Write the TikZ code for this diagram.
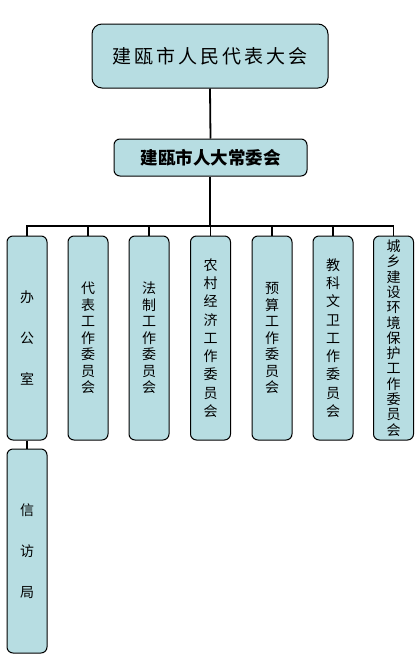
\documentclass[tikz,border=0pt]{standalone}
\usepackage{fontspec}
\newfontfamily\cjk{Noto Sans CJK SC}
\newfontfamily\cjktitle[LetterSpace=16]{Noto Sans CJK SC}
\definecolor{boxfill}{RGB}{183,221,226}
\begin{document}
\begin{tikzpicture}[x=1pt,y=-1pt,
  basebox/.style={draw=black, line width=1pt, fill=boxfill, inner sep=0pt, align=center, text=black},
  topbox/.style={basebox, rounded corners=10pt, minimum width=236pt, minimum height=64pt, font=\cjktitle\fontsize{19}{19}\selectfont},
  cwbox/.style={basebox, rounded corners=6pt, minimum width=193pt, minimum height=37pt, font=\cjk\bfseries\fontsize{17.5}{18}\selectfont},
  dept/.style={basebox, rounded corners=6pt, minimum width=40pt, minimum height=204pt},
  pitch/.style={font=\cjk\fontsize{14}{#1}\selectfont},
  conn/.style={draw=black, line width=1.8pt}
]
\useasboundingbox (0,0) rectangle (419,662);
\node[topbox] (npc) at (210,56) {建瓯市人民代表大会};
\node[cwbox] (cw) at (210.5,157.5) {建瓯市人大常委会};
\node[dept, pitch=41] (b1) at (27,338) {办\\公\\室};
\node[dept, pitch=16.5] (b2) at (88,338) {代\\表\\工\\作\\委\\员\\会};
\node[dept, pitch=16.5] (b3) at (149,338) {法\\制\\工\\作\\委\\员\\会};
\node[dept, pitch=18.3] (b4) at (210.5,338) {农\\村\\经\\济\\工\\作\\委\\员\\会};
\node[dept, pitch=16.5] (b5) at (272,338) {预\\算\\工\\作\\委\\员\\会};
\node[dept, pitch=18.3] (b6) at (333,338) {教\\科\\文\\卫\\工\\作\\委\\员\\会};
\node[dept, pitch=15.3] (b7) at (393.5,338) {城\\乡\\建\\设\\环\\境\\保\\护\\工\\作\\委\\员\\会};
\node[dept, pitch=41] (b8) at (27,551) {信\\访\\局};
\coordinate (bus) at (210,226);
\draw[conn] (npc.south) -- (cw.north);
\draw[conn] (cw.south -| bus) -- (bus);
\draw[conn] (b1.north) |- (bus) -| (b7.north);
\foreach \b in {b2,b3,b4,b5,b6}{\draw[conn] (\b.north) -- (\b.north |- bus);}
\draw[conn] (b1.south) -- (b8.north);
\end{tikzpicture}
\end{document}
